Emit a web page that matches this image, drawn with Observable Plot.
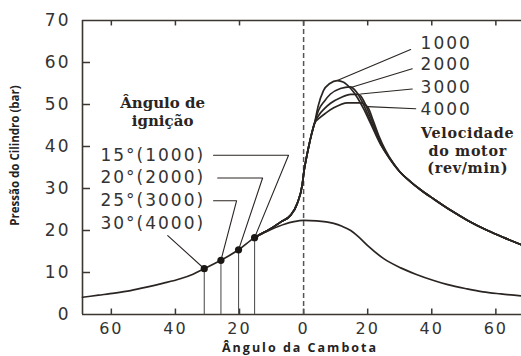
<!DOCTYPE html>
<html>
<head>
<meta charset="utf-8">
<script src="https://cdn.jsdelivr.net/npm/d3@7"></script>
<script src="https://cdn.jsdelivr.net/npm/@observablehq/plot@0.6"></script>
<style>
  html, body { margin: 0; padding: 0; background: #fff; }
</style>
</head>
<body>
<div id="chart"></div>
<script>
// ---- axes ----
const xTicks = [-60, -40, -20, 0, 20, 40, 60];
const yTicks = [0, 10, 20, 30, 40, 50, 60, 70];
const xDomain = [-69, 68];
const yDomain = [0, 70];
const tdc = [0];

// ---- motoring curve (no combustion) ----
const motorAngle = [-69, -64, -59, -54, -49, -44, -38.5, -34.5, -31, -25.8, -20.3, -15.3, -10, -6, -3, 0, 4, 9.4, 12, 14.7, 17, 20, 25, 30.3, 35, 40.6, 45, 51, 56, 61.5, 68];
const motorP     = [4.1, 4.6, 5.1, 5.7, 6.5, 7.4, 8.5, 9.6, 10.9, 12.9, 15.4, 18.3, 20.3, 21.5, 22.1, 22.4, 22.3, 21.7, 21, 20, 18.6, 16.4, 13.3, 11.1, 9.6, 8.1, 7.1, 6.1, 5.4, 4.9, 4.4];

// ---- fired curve, shared part before branching ----
const firedAngle = [-15.3, -12.5, -10.3, -7.2, -4.1, -2, -0.4, 0.1, 0.8, 1.6, 2.5, 3.4];
const firedP     = [18.3, 19.5, 20.4, 22, 23.6, 26.4, 31, 34, 37, 40, 43, 45.5];

// ---- branches per engine speed (rev/min) ----
const speeds = ["1000", "2000", "3000", "4000"];
const branch1000Angle = [4.5, 6.2, 8.2, 10.5, 12.5, 14.7, 16.9, 18.7, 20.9, 24, 27];
const branch1000P     = [49.5, 53.3, 55, 55.7, 55.3, 53.8, 51.5, 49, 45.5, 40.5, 37.1];
const branch2000Angle = [4.6, 6.5, 8.4, 11.5, 14.5, 16.5, 18.5, 20.5, 22.5, 24.5, 27];
const branch2000P     = [48.5, 50.8, 52.5, 53.8, 54.2, 53, 50.3, 46.8, 43.3, 40, 36.9];
const branch3000Angle = [4.8, 6.5, 8.4, 11.5, 14.7, 17.2, 19, 21, 23, 25, 27.5];
const branch3000P     = [47.5, 49, 50.3, 51.6, 52.4, 52.4, 50.5, 46.8, 43, 39.6, 36.4];
const branch4000Angle = [5, 7, 9.4, 13.7, 17.8, 20, 21.8, 23.5, 25.5, 28];
const branch4000P     = [46.8, 48, 49.2, 50.4, 50.4, 49.4, 46, 42.5, 39.2, 36];

// ---- shared expansion tail ----
const tailAngle = [30, 33.4, 36.5, 40.6, 45.9, 51.2, 57.4, 62.5, 68];
const tailP     = [34, 31.6, 29.7, 27.5, 24.8, 22.4, 20, 18.3, 16.6];

// ---- ignition points ----
const ignitionAngle  = [-31, -25.8, -20.3, -15.3];
const ignitionP      = [10.9, 12.9, 15.4, 18.3];
const ignitionLabels = ["30°(4000)", "25°(3000)", "20°(2000)", "15°(1000)"];

// ---- annotation anchors (data units) ----
const igLabelX = -63.4;
const igLabelY = [21.7, 27.1, 32.5, 37.9];           // for 30°,25°,20°,15°
const igLeaderElbowX = [[-42.4], [-28.1, -20.9], [-26.8, -12.8], [-28.1, -4.7]];
const rpmLabelX = 36.5;
const rpmLabelY = [64.6, 59.5, 54.0, 48.8];
const rpmLeaderStart = [[10.5, 55.7], [15, 54.1], [17.8, 52.5], [20, 49.5]];
const rpmLeaderEnd   = [[33.4, 63.1], [33.9, 58.5], [33.9, 53.7], [35, 49]];
const ignTitle = ["Ângulo de", "ignição"];
const ignTitleX = -44, ignTitleY = [50.2, 46.1];
const speedTitle = ["Velocidade", "do motor", "(rev/min)"];
const speedTitleX = 51.2, speedTitleY = [43.0, 38.9, 34.8];
const tickLenX = 1.3, tickLenY = 2.5;

// ---- build tables ----
const zip = (a, b, extra) => a.map((x, i) => ({x, y: b[i], ...extra}));
const motor = zip(motorAngle, motorP);
const branches = {
  "1000": [branch1000Angle, branch1000P],
  "2000": [branch2000Angle, branch2000P],
  "3000": [branch3000Angle, branch3000P],
  "4000": [branch4000Angle, branch4000P]
};
const fired = speeds.flatMap(s => [
  ...zip(firedAngle, firedP, {s}),
  ...zip(branches[s][0], branches[s][1], {s}),
  ...zip(tailAngle, tailP, {s})
]);
const ign = ignitionAngle.map((x, i) => ({x, y: ignitionP[i], label: ignitionLabels[i], ly: igLabelY[i]}));
const igLeaders = ign.flatMap((d, i) => {
  const elbow = igLeaderElbowX[i];
  const pts = elbow.length === 1
    ? [{x: elbow[0], y: d.ly - 2.9}]
    : elbow.map(x => ({x, y: d.ly}));
  return [...pts, {x: d.x, y: d.y}].map(p => ({...p, id: i}));
});
const rpmLeaders = speeds.flatMap((s, i) => [
  {x: rpmLeaderStart[i][0], y: rpmLeaderStart[i][1], id: s},
  {x: rpmLeaderEnd[i][0], y: rpmLeaderEnd[i][1], id: s}
]);
const rpmLabels = speeds.map((s, i) => ({x: rpmLabelX, y: rpmLabelY[i], t: s}));
const innerY = yTicks.filter(d => d > yDomain[0] && d < yDomain[1]);

const ink = "#2a2522";
const numFont = "DejaVu Sans";

const plot = Plot.plot({
  width: 521,
  height: 356,
  marginLeft: 82,
  marginRight: 0,
  marginTop: 20,
  marginBottom: 42,
  style: {background: "#fff", color: ink},
  x: {domain: xDomain},
  y: {domain: yDomain},
  marks: [
    // frame
    Plot.ruleY([yDomain[0], yDomain[1]], {stroke: "#3b3630", strokeWidth: 1.6}),
    Plot.ruleX([xDomain[0]], {stroke: "#3b3630", strokeWidth: 1.6}),
    // inward ticks
    Plot.ruleX(xTicks, {y1: yDomain[0], y2: yDomain[0] + tickLenX, stroke: "#3b3630", strokeWidth: 1.5}),
    Plot.ruleX(xTicks, {y1: yDomain[1], y2: yDomain[1] - tickLenX, stroke: "#3b3630", strokeWidth: 1.5}),
    Plot.ruleY(innerY, {x1: xDomain[0], x2: xDomain[0] + tickLenY, stroke: "#3b3630", strokeWidth: 1.5}),
    // axes labels
    Plot.axisX({ticks: xTicks, tickSize: 0, tickPadding: 8, tickFormat: d => Math.abs(d), fontSize: 16, fontFamily: numFont, fill: "#333", label: null}),
    Plot.axisY({ticks: yTicks, tickSize: 0, tickPadding: 12, fontSize: 17, fontFamily: numFont, fill: "#333", label: null}),
    // TDC dashed line
    Plot.ruleX(tdc, {y1: yDomain[0], y2: yDomain[1], stroke: "#555", strokeWidth: 1.5, strokeDasharray: "5,3"}),
    // ignition verticals
    Plot.ruleX(ign, {x: "x", y1: yDomain[0], y2: "y", stroke: "#555", strokeWidth: 1.1}),
    // curves
    Plot.line(motor, {x: "x", y: "y", curve: "monotone-x", stroke: ink, strokeWidth: 1.7}),
    Plot.line(fired, {x: "x", y: "y", z: "s", curve: "monotone-x", stroke: ink, strokeWidth: 1.7}),
    // leaders
    Plot.line(igLeaders, {x: "x", y: "y", z: "id", stroke: ink, strokeWidth: 1.1}),
    Plot.line(rpmLeaders, {x: "x", y: "y", z: "id", stroke: ink, strokeWidth: 1.1}),
    // ignition dots
    Plot.dot(ign, {x: "x", y: "y", r: 3.6, fill: "#1a1715", stroke: "none"}),
    // labels
    Plot.text(ign, {x: () => igLabelX, y: "ly", text: "label", textAnchor: "start", fontSize: 17, fontFamily: numFont, fill: "#333"}),
    Plot.text(rpmLabels, {x: "x", y: "y", text: "t", textAnchor: "start", fontSize: 17, fontFamily: numFont, fill: "#333"}),
    Plot.text(ignTitle, {x: () => ignTitleX, y: (d, i) => ignTitleY[i], text: d => d, fontSize: 15, fontWeight: "bold", fontFamily: "DejaVu Serif", fill: "#2a2522"}),
    Plot.text(speedTitle, {x: () => speedTitleX, y: (d, i) => speedTitleY[i], text: d => d, fontSize: 14.3, fontWeight: "bold", fontFamily: "DejaVu Serif", fill: "#2a2522"}),
    // axis titles
    Plot.text(["Pressão do Cilindro (bar)"], {frameAnchor: "left", textAnchor: "middle", lineAnchor: "middle", dx: -67, dy: -12, rotate: -90, fontSize: 11.5, fontWeight: "bold", fontFamily: "Open Sans", fill: "#222"}),
    Plot.text(["Ângulo da Cambota"], {frameAnchor: "bottom", textAnchor: "middle", lineAnchor: "middle", dx: -2, dy: 33, fontSize: 12.5, fontWeight: "bold", fontFamily: "Open Sans", fill: "#222"})
  ]
});

d3.select(plot).selectAll('g[font-family="DejaVu Sans"] text').style("letter-spacing", "2px");
d3.select(plot).selectAll('g[font-family="DejaVu Serif"] text').filter(function() { return speedTitle.includes(this.textContent); }).style("letter-spacing", "0.7px");
d3.select(plot).selectAll('g[font-family="Open Sans"] text').filter(function() { return this.textContent.startsWith("Ângulo da"); }).style("letter-spacing", "2px");
document.getElementById("chart").appendChild(plot);
</script>
</body>
</html>
